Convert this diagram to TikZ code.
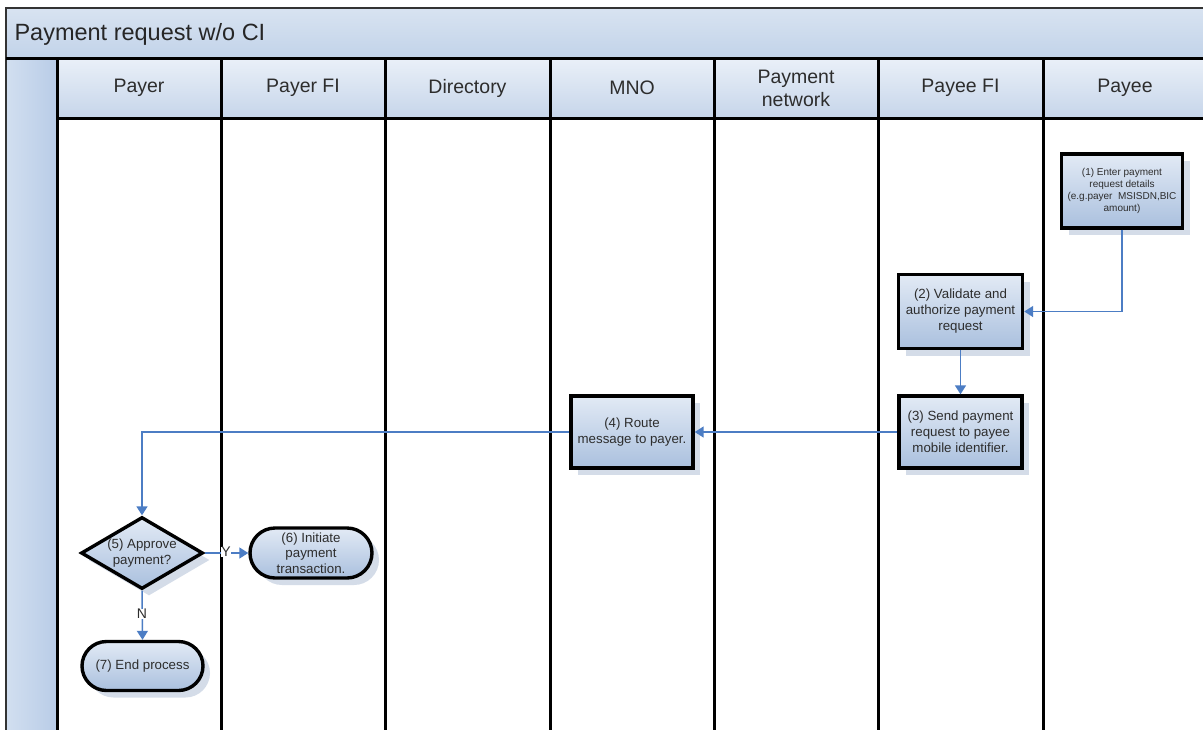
\documentclass[tikz,border=0pt]{standalone}
\usepackage{fontspec}
\setmainfont{Liberation Sans}
\usetikzlibrary{shapes.geometric,shapes.misc,arrows.meta,shadows}

\definecolor{flow}{RGB}{76,125,196}
\definecolor{boxtop}{RGB}{226,234,245}
\definecolor{boxbot}{RGB}{170,192,222}
\definecolor{headtop}{RGB}{234,240,248}
\definecolor{headbot}{RGB}{198,213,234}
\definecolor{titletop}{RGB}{216,227,241}
\definecolor{titlebot}{RGB}{194,211,233}
\definecolor{striplt}{RGB}{210,223,240}
\definecolor{stripdk}{RGB}{184,204,231}
\definecolor{shadowc}{RGB}{212,220,232}
\definecolor{ink}{RGB}{45,45,45}

\tikzset{
  lane/.style={line width=3pt, black},
  lanehead/.style={top color=headtop, bottom color=headbot, draw=none,
    minimum width=164pt, minimum height=60pt, inner sep=0pt, align=center,
    text=ink, font=\fontsize{19.5}{23}\selectfont},
  boxshadow/.style={drop shadow={shadow xshift=7pt, shadow yshift=-7pt,
    fill=shadowc, opacity=1}},
  stepbox/.style={draw=black, line width=3.4pt, top color=boxtop,
    bottom color=boxbot, boxshadow, align=center, text=ink, inner sep=1pt,
    font=\fontsize{13.3}{16}\selectfont},
  terminal/.style={stepbox, rounded rectangle, minimum width=124pt,
    minimum height=50pt},
  decision/.style={draw=black, line width=3.4pt, top color=boxtop,
    bottom color=boxbot, boxshadow, diamond, inner sep=0pt,
    minimum width=122pt, minimum height=72pt},
  arr/.style={draw=flow, line width=1.5pt,
    -{Triangle[width=11pt,length=9pt]}},
  branch/.style={text=ink, font=\fontsize{14}{16}\selectfont, fill=white,
    inner sep=0.5pt},
}

\begin{document}
\begin{tikzpicture}[x=1pt,y=-1pt]
\useasboundingbox (0,0) rectangle (1203,729);
\clip (0,0) rectangle (1203,729);

% page background
\fill[white] (0,0) rectangle (1203,729);

% pool title bar
\shade[top color=titletop, bottom color=titlebot] (6,8) rectangle (1215,58);
\node[anchor=west, text=black!85, font=\fontsize{23.5}{28}\selectfont]
  (title) at (11,34) {Payment request w/o CI};

% left vertical strip of the pool
\shade[left color=striplt, right color=stripdk] (6,58) rectangle (57,740);

% lane headers
\node[lanehead] (hpayer)   at (139,88)  {Payer};
\node[lanehead] (hpayerfi) at (303,88)  {Payer FI};
\node[lanehead] (hdir)     at (467.5,88) {Directory};
\node[lanehead] (hmno)     at (632,88)  {MNO};
\node[lanehead] (hnet)     at (796,88)  {Payment\\network};
\node[lanehead] (hpayeefi) at (960.5,88) {Payee FI};
\node[lanehead] (hpayee)   at (1125,88) {Payee};

% pool frame and lane separators
\draw[line width=1.4pt, black!80] (6,740) -- (6,8) -- (1215,8);
\draw[lane] (6,58) -- (1215,58);
\draw[lane] (57,118) -- (1215,118);
\foreach \x in {57,221,385,550,714,878,1043}
  \draw[lane] (\x,58) -- (\x,740);

% process steps
\node[stepbox, minimum width=121pt, minimum height=74pt,
  font=\fontsize{10}{12}\selectfont] (s1) at (1122,191)
  {(1) Enter payment\\request details\\(e.g.payer~ MSISDN,BIC\\amount)};
\node[stepbox, minimum width=124pt, minimum height=74pt] (s2) at (960.5,311.5)
  {(2) Validate and\\authorize payment\\request};
\node[stepbox, minimum width=123pt, minimum height=72pt] (s3) at (960.5,432)
  {(3) Send payment\\request to payee\\mobile identifier.};
\node[stepbox, minimum width=122pt, minimum height=72pt] (s4) at (632,432)
  {(4) Route\\message to payer.};
\node[decision] (s5) at (142,553) {};
\node[text=ink, align=center, font=\fontsize{13.3}{16}\selectfont]
  (s5text) at (142,553) {(5) Approve\\payment?};
\node[terminal, font=\fontsize{13.3}{15.5}\selectfont] (s6) at (311,553)
  {(6) Initiate\\payment\\transaction.};
\node[terminal, minimum width=123pt, minimum height=49pt] (s7) at (142.5,666)
  {(7) End process};

% sequence flow
\draw[arr] (s1.south) |- (s2.east);
\draw[arr] (s2.south) -- (s3.north);
\draw[arr] (s3.west) -- (s4.east);
\draw[arr] (s4.west) -| (s5.north);
\draw[arr] (s5.east) -- (s6.west);
\node[branch] (ylab) at (226,552) {Y};
\draw[arr] (s5.south) -- (s7.north);
\node[branch] (nlab) at (142,614) {N};
\end{tikzpicture}
\end{document}
